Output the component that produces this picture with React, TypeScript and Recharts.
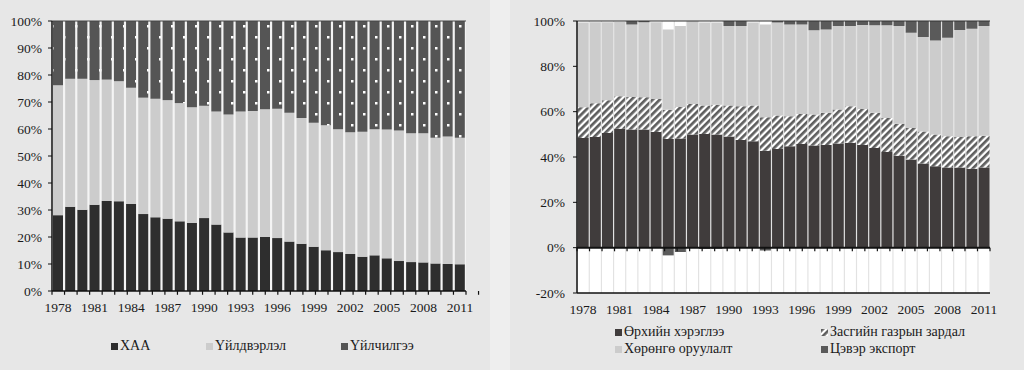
import { BarChart, Bar, XAxis, YAxis, ReferenceLine, CartesianGrid } from "recharts";

const years = [
  "1978", "1979", "1980", "1981", "1982", "1983", "1984", "1985", "1986", "1987",
  "1988", "1989", "1990", "1991", "1992", "1993", "1994", "1995", "1996", "1997",
  "1998", "1999", "2000", "2001", "2002", "2003", "2004", "2005", "2006", "2007",
  "2008", "2009", "2010", "2011",
];

// left: sector shares of GDP, %
const agriculture = [
  28.1, 31.2, 30.1, 31.9, 33.3, 33.2, 32.2, 28.5, 27.3, 26.8, 25.8, 25.2, 27.0, 24.6,
  21.7, 19.8, 19.8, 20.0, 19.6, 18.3, 17.5, 16.4, 15.1, 14.4, 13.7, 12.7, 13.2, 12.1,
  11.1, 10.7, 10.6, 10.2, 10.0, 9.9,
];
const industry = [
  48.1, 47.4, 48.5, 46.2, 45.0, 44.5, 43.1, 43.1, 43.9, 43.9, 43.8, 42.9, 41.6, 41.9,
  43.7, 46.7, 46.9, 47.3, 47.9, 47.7, 46.6, 45.9, 46.3, 45.5, 45.1, 46.3, 46.7, 47.7,
  48.3, 47.7, 47.8, 46.6, 47.2, 46.9,
];
const services = [
  23.8, 21.4, 21.4, 21.9, 21.7, 22.3, 24.7, 28.4, 28.8, 29.3, 30.4, 31.9, 31.4, 33.5,
  34.6, 33.5, 33.3, 32.7, 32.5, 34.0, 35.9, 37.7, 38.6, 40.1, 41.2, 41.0, 40.1, 40.2,
  40.6, 41.6, 41.6, 43.2, 42.8, 43.2,
];

// right: expenditure shares of GDP, %
const household = [
  48.4, 48.8, 50.6, 52.5, 52.1, 52.1, 51.0, 47.9, 48.2, 49.9, 50.1, 49.9, 49.0, 47.5,
  47.0, 42.8, 43.5, 44.7, 45.7, 45.1, 45.3, 46.0, 46.3, 45.3, 44.0, 42.2, 40.6, 38.9,
  37.1, 35.9, 35.4, 35.4, 34.8, 35.4,
];
const government = [
  13.5, 14.9, 14.4, 14.3, 14.4, 14.3, 14.6, 13.0, 13.9, 13.5, 12.6, 13.2, 13.7, 14.9,
  15.7, 14.7, 14.8, 13.3, 13.3, 13.6, 14.2, 15.0, 16.1, 15.9, 15.5, 15.0, 14.1, 13.9,
  14.2, 14.0, 13.7, 13.4, 14.3, 14.0,
];
const investment = [
  37.4, 35.8, 34.5, 32.9, 32.0, 33.1, 33.9, 35.4, 35.7, 36.6, 36.6, 36.2, 35.1, 35.4,
  36.6, 41.0, 41.0, 40.5, 39.5, 37.2, 36.8, 36.8, 35.4, 37.0, 38.6, 40.9, 43.1, 42.0,
  41.6, 41.5, 43.5, 47.2, 47.5, 48.4,
];
const netExport = [
  0, 0, 0, 0, 1.5, 0.5, 0, -3.4, -1.9, 0, -0.6, -0.5, 2.2, 2.2, 0, -1.3, 0.7, 1.5, 1.5,
  4.1, 3.7, 2.2, 2.2, 1.8, 1.9, 1.9, 2.2, 5.2, 7.1, 8.6, 7.4, 4.0, 3.4, 2.2,
];

const leftTicks = [0, 10, 20, 30, 40, 50, 60, 70, 80, 90, 100];
const rightTicks = [-20, 0, 20, 40, 60, 80, 100];
const edges = years.map((_, i) => i).concat(years.length);

const sectorData = years.map((year, i) => ({
  year,
  agriculture: agriculture[i],
  industry: industry[i],
  services: services[i],
}));

const spendData = years.map((year, i) => ({
  year,
  household: household[i],
  government: government[i],
  investment: investment[i],
  netExport: netExport[i],
}));

const font = "'Liberation Serif', 'DejaVu Serif', serif";
const tickStyle = { fill: "#1a1a1a", fontSize: 13.5, fontFamily: font };
const axisLine = { stroke: "#111", strokeWidth: 1.5 };

function Swatch({ fill }: { fill: string }) {
  return (
    <svg width={7} height={7} style={{ marginRight: 2 }}>
      <rect width={7} height={7} fill={fill} />
    </svg>
  );
}

function LegendItem({ left, top, fill, label }: { left: number; top: number; fill: string; label: string }) {
  return (
    <div
      style={{
        position: "absolute",
        left,
        top,
        display: "flex",
        alignItems: "center",
        fontFamily: font,
        fontSize: 14,
        color: "#1a1a1a",
        whiteSpace: "nowrap",
        lineHeight: "16px",
      }}
    >
      <Swatch fill={fill} />
      {label}
    </div>
  );
}

export default function App() {
  return (
    <div
      style={{
        position: "fixed",
        left: 0,
        top: 0,
        width: 1024,
        height: 370,
        background: "#eeeeee",
        overflow: "hidden",
      }}
    >
      <svg width={0} height={0} style={{ position: "absolute" }}>
        <defs>
          <pattern id="dots" width={24} height={22} patternUnits="userSpaceOnUse">
            <rect width={24} height={22} fill="#555555" />
            <rect x={3} y={3} width={2.5} height={2.5} fill="#ffffff" />
            <rect x={15} y={14} width={2.5} height={2.5} fill="#ffffff" />
          </pattern>
          <pattern
            id="hatch"
            width={5}
            height={5}
            patternUnits="userSpaceOnUse"
            patternTransform="rotate(45)"
          >
            <rect width={5} height={5} fill="#ffffff" />
            <rect width={2.7} height={5} fill="#5e5e5e" />
          </pattern>
        </defs>
      </svg>

      {/* left panel */}
      <div style={{ position: "absolute", left: 0, top: 0, width: 490, height: 370, background: "#e7e7e7" }}>
        <BarChart
          width={490}
          height={370}
          data={sectorData}
          margin={{ top: 21, right: 24, bottom: 49, left: 0 }}
          barCategoryGap={1}
        >
          <CartesianGrid fill="#f4f4f4" stroke="none" horizontal={false} vertical={false} />
          <XAxis
            dataKey="year"
            interval={2}
            tickLine={false}
            tickSize={0}
            tickMargin={11}
            axisLine={axisLine}
            tick={tickStyle}
            height={30}
          />
          <XAxis xAxisId="edge" type="number" domain={[0, years.length]} hide />
          <YAxis
            domain={[0, 100]}
            ticks={leftTicks}
            tickFormatter={(v) => `${v}%`}
            tick={tickStyle}
            tickSize={4}
            tickMargin={6}
            tickLine={{ stroke: "#111" }}
            axisLine={axisLine}
            width={52}
          />
          <Bar dataKey="agriculture" stackId="s" fill="#2e2e2e" isAnimationActive={false} />
          <Bar dataKey="industry" stackId="s" fill="#cccccc" isAnimationActive={false} />
          <Bar dataKey="services" stackId="s" fill="url(#dots)" isAnimationActive={false} />
          <ReferenceLine y={100} stroke="#444" strokeWidth={1} />
          <ReferenceLine x={years.length} xAxisId="edge" stroke="#111" strokeWidth={1.5} />
          {edges.map((k) => (
            <ReferenceLine
              key={k}
              xAxisId="edge"
              segment={[{ x: k, y: 0 }, { x: k, y: -1.4 }]}
              ifOverflow="visible"
              stroke="#111"
              strokeWidth={1.2}
            />
          ))}
        </BarChart>
        <LegendItem left={111} top={338} fill="#2e2e2e" label="ХАА" />
        <LegendItem left={206} top={338} fill="#cccccc" label="Үйлдвэрлэл" />
        <LegendItem left={341} top={338} fill="#555555" label="Үйлчилгээ" />
      </div>

      {/* right panel */}
      <div style={{ position: "absolute", left: 510, top: 0, width: 514, height: 370, background: "#e7e7e7" }}>
        <BarChart
          width={514}
          height={370}
          data={spendData}
          margin={{ top: 21, right: 34, bottom: 47, left: 0 }}
          stackOffset="sign"
          barCategoryGap={0.7}
        >
          <CartesianGrid fill="#e2e2e2" stroke="none" horizontal={false} vertical={false} />
          <XAxis
            dataKey="year"
            interval={2}
            tickLine={false}
            tickSize={0}
            tickMargin={11}
            axisLine={axisLine}
            tick={tickStyle}
            height={30}
          />
          <XAxis xAxisId="edge" type="number" domain={[0, years.length]} hide />
          <YAxis
            domain={[-20, 100]}
            ticks={rightTicks}
            allowDataOverflow
            tickFormatter={(v) => `${v}%`}
            tick={tickStyle}
            tickSize={4}
            tickMargin={8}
            tickLine={{ stroke: "#111" }}
            axisLine={axisLine}
            width={67}
          />
          <Bar
            dataKey="household"
            stackId="e"
            fill="#403c3c"
            background={{ fill: "#ffffff" }}
            isAnimationActive={false}
          />
          <Bar dataKey="government" stackId="e" fill="url(#hatch)" isAnimationActive={false} />
          <Bar dataKey="investment" stackId="e" fill="#cccccc" isAnimationActive={false} />
          <Bar dataKey="netExport" stackId="e" fill="#5a5a5a" isAnimationActive={false} />
          <ReferenceLine y={0} stroke="#111" strokeWidth={2} />
          <ReferenceLine y={100} stroke="#333" strokeWidth={1} />
          <ReferenceLine x={years.length} xAxisId="edge" stroke="#111" strokeWidth={1.5} />
          {edges.map((k) => (
            <ReferenceLine
              key={k}
              xAxisId="edge"
              segment={[{ x: k, y: 0 }, { x: k, y: -1.6 }]}
              stroke="#111"
              strokeWidth={1.2}
            />
          ))}
        </BarChart>
        <LegendItem left={105} top={324} fill="#403c3c" label="Өрхийн хэрэглээ" />
        <LegendItem left={105} top={341} fill="#cccccc" label="Хөрөнгө оруулалт" />
        <LegendItem left={311} top={324} fill="url(#hatch)" label="Засгийн газрын зардал" />
        <LegendItem left={311} top={341} fill="#5a5a5a" label="Цэвэр экспорт" />
      </div>
    </div>
  );
}
